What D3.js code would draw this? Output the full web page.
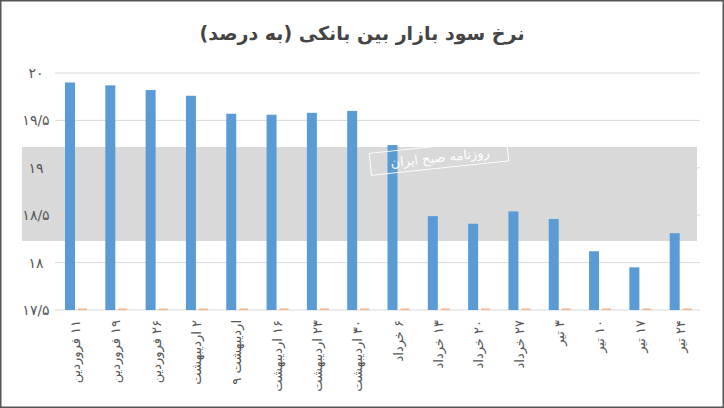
<!DOCTYPE html>
<html><head><meta charset="utf-8">
<script src="https://cdn.jsdelivr.net/npm/d3@7"></script>
<style>body{margin:0;background:#fff}svg{display:block;font-family:"DejaVu Sans",sans-serif}</style>
</head><body><svg id="c" width="724" height="408"></svg>
<script>
const categories=["۱۱ فروردین","۱۹ فروردین","۲۶ فروردین","۲ اردیبهشت","اردیبهشت ۹","۱۶ اردیبهشت","۲۳ اردیبهشت","۳۰ اردیبهشت","۶ خرداد","۱۳ خرداد","۲۰ خرداد","۲۷ خرداد","۳ تیر","۱۰ تیر","۱۷ تیر","۲۴ تیر"];
const rates=[19.9,19.87,19.82,19.76,19.57,19.56,19.58,19.6,19.24,18.49,18.41,18.54,18.46,18.12,17.95,18.31];
const second=[17.515,17.515,17.515,17.515,17.515,17.515,17.515,17.515,17.515,17.515,17.515,17.515,17.515,17.515,17.515,17.515];
const ticks=[17.5,18,18.5,19,19.5,20];
const tickLabels=["۱۷/۵","۱۸","۱۸/۵","۱۹","۱۹/۵","۲۰"];
const svg=d3.select("#c");
svg.append("rect").attr("x",0.5).attr("y",0.5).attr("width",723).attr("height",407).attr("fill","#fff").attr("stroke","#555").attr("stroke-width",2);
svg.append("text").attr("x",362).attr("y",40).attr("text-anchor","middle").attr("font-size",19).attr("font-weight","bold").attr("fill","#444").text("نرخ سود بازار بین بانکی (به درصد)");
const x=d3.scaleBand().domain(categories).range([55,700]);
const y=d3.scaleLinear().domain([17.5,20]).range([310,73]);
svg.append("rect").attr("x",22).attr("y",147).attr("width",675).attr("height",94).attr("fill","#d9d9d9");
svg.append("g").selectAll("line").data(ticks).join("line").attr("x1",55).attr("x2",700).attr("y1",d=>y(d)).attr("y2",d=>y(d)).attr("stroke","#d9d9d9");
svg.append("g").selectAll("text").data(ticks).join("text").attr("x",36).attr("y",d=>y(d)+5).attr("text-anchor","middle").attr("font-size",14).attr("fill","#555").text((d,i)=>tickLabels[i]);
svg.append("g").selectAll("rect").data(rates).join("rect").attr("x",(d,i)=>x(categories[i])+10).attr("width",10).attr("y",d=>y(d)).attr("height",d=>y(17.5)-y(d)).attr("fill","#5b9bd5");
svg.append("g").selectAll("rect").data(second).join("rect").attr("x",(d,i)=>x(categories[i])+23).attr("width",9).attr("y",d=>y(d)).attr("height",d=>y(17.5)-y(d)).attr("fill","#f4b183");
svg.append("rect").attr("x",370).attr("y",146).attr("width",138).attr("height",22).attr("fill","none").attr("stroke","#fff").attr("transform","rotate(-6,440,157)");
svg.append("text").attr("x",440).attr("y",162).attr("text-anchor","middle").attr("font-size",13).attr("fill","#fff").attr("transform","rotate(-6,440,157)").text("روزنامه صبح ایران");
svg.append("g").selectAll("text").data(categories).join("text").attr("font-size",13).attr("fill","#555").attr("direction","rtl").attr("text-anchor","start")
 .attr("transform",d=>`translate(${x(d)+x.bandwidth()/2+5},320) rotate(-90)`).text(d=>d);
</script></body></html>
